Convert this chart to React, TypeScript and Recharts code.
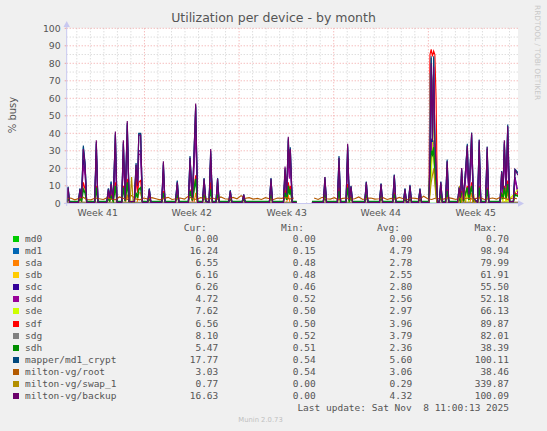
import { CartesianGrid, Line, LineChart, ReferenceLine, XAxis, YAxis } from 'recharts';

const PAGE_BG = '#f0f0f0';
const TEXT = '#555555';
const AXIS = '#c8c8f0';

// x is measured in days from the left edge of the plot
const X_MAX = 33.38;
const weekTicks = [2.3, 9.25, 16.28, 23.23, 30.26];
const weekLabels = ['Week 41', 'Week 42', 'Week 43', 'Week 44', 'Week 45'];
const weekStarts = [5.75, 12.75, 19.75, 26.75];
const yTicks = [0, 10, 20, 30, 40, 50, 60, 70, 80, 90, 100];
const yMinor = [5, 15, 25, 35, 45, 55, 65, 75, 85, 95];

// sample instants shared by the spiky devices (null rows mark the hole in week 43)
const spikeDays = [
  0.0, 0.1, 0.22, 0.86, 0.98, 1.1, 1.23, 1.36, 1.48, 2.07,
  2.19, 2.31, 2.96, 3.08, 3.18, 3.28, 3.44, 3.6, 3.72, 4.07,
  4.19, 4.33, 4.48, 4.62, 5.0, 5.13, 5.24, 5.33, 5.47, 5.6,
  5.99, 6.11, 6.23, 7.03, 7.15, 7.27, 8.04, 8.18, 8.3, 9.0,
  9.12, 9.3, 9.54, 9.68, 10.04, 10.16, 10.3, 10.53, 10.65, 10.78,
  11.04, 11.16, 11.28, 11.98, 12.1, 12.22, 12.97, 13.09, 13.21, 14.99,
  15.11, 15.23, 16.03, 16.15, 16.27, 16.39, 16.47, 16.54, 16.68, 17.01,
  17.05, 18.14, 18.98, 19.1, 19.22, 20.02, 20.14, 20.26, 20.66, 20.78,
  20.9, 21.03, 21.15, 22.04, 22.16, 22.28, 23.13, 23.25, 23.37, 24.11,
  24.23, 24.35, 24.9, 25.02, 25.14, 25.27, 25.39, 25.51, 26.01, 26.13,
  26.25, 26.8, 26.87, 26.96, 27.05, 27.14, 27.23, 27.32, 27.42, 27.55,
  27.67, 27.79, 28.02, 28.14, 28.26, 28.91, 29.03, 29.12, 29.21, 29.35,
  29.63, 29.75, 29.95, 30.08, 30.39, 30.51, 30.63, 30.98, 31.1, 31.22,
  32.05, 32.17, 32.27, 32.37, 32.5, 32.62, 32.76, 33.04, 33.16, 33.38,
];

const backupVals = [
  0.4, 9, 0.4, 0.4, 8, 3, 31, 22, 0.4, 0.4,
  36, 0.4, 0.4, 8, 3, 11, 2, 41, 0.4, 0.4,
  36, 2, 47, 1, 1, 22, 10, 39, 39, 0.4,
  0.4, 8, 0.4, 0.4, 24, 0.4, 0.4, 12, 0.4, 0.4,
  26, 3, 57, 0.4, 0.4, 14, 1, 0.4, 31, 0.4,
  0.4, 14, 0.4, 0.4, 7, 0.4, 0.4, 5, 0.4, 0.4,
  14, 0.4, 0.4, 21, 5, 38, 20, 31, 0.4, 0.4,
  null, 0.4, 0.4, 15, 0.4, 0.4, 26, 0.4, 0.4, 34,
  2, 9.5, 0.4, 0.4, 12, 0.4, 0.4, 11, 0.4, 0.4,
  16, 0.4, 0.4, 8, 0.4, 0.4, 10, 0.4, 0.4, 8,
  0.4, 0.4, 30, 80, 36, 78, 37, 20, 0.4, 0.4,
  12, 0.4, 0.4, 24, 0.4, 0.4, 9, 3, 20, 2,
  33, 5, 40, 3, 0.4, 36, 0.4, 0.4, 32, 0.4,
  0.4, 18, 8, 36, 10, 44, 1, 1, 19, 16,
];

const cryptVals = [
  0.6, 9.5, 0.6, 0.6, 8.5, 3, 33, 23, 0.6, 0.6,
  35, 0.6, 0.6, 8.5, 3, 12.5, 2, 40, 0.6, 0.6,
  35, 2, 46, 1, 1, 23, 10, 40, 40, 0.6,
  0.6, 8.5, 0.6, 0.6, 23, 0.6, 0.6, 13, 0.6, 0.6,
  27, 3, 56, 0.6, 0.6, 14.5, 1, 0.6, 30, 0.6,
  0.6, 14.5, 0.6, 0.6, 7.5, 0.6, 0.6, 5, 0.6, 0.6,
  14.5, 0.6, 0.6, 20, 5, 37, 20, 32, 0.6, 0.6,
  null, 0.6, 0.6, 15, 0.6, 0.6, 27, 0.6, 0.6, 33,
  2, 10, 0.6, 0.6, 12.5, 0.6, 0.6, 11.5, 0.6, 0.6,
  16.5, 0.6, 0.6, 8.5, 0.6, 0.6, 10.5, 0.6, 0.6, 8.5,
  0.6, 0.6, 28, 84, 35, 84, 36, 20, 0.6, 0.6,
  12.5, 0.6, 0.6, 25, 0.6, 0.6, 9.5, 3, 20, 2,
  34, 5, 40.5, 3, 0.6, 36.5, 0.6, 0.6, 32.5, 0.6,
  0.6, 18.5, 8, 35, 10, 45, 1, 1, 19.5, 17.5,
];

const md1Vals = [
  0.5, 9, 0.5, 0.5, 8, 3, 32, 22, 0.5, 0.5,
  34, 0.5, 0.5, 8, 3, 12, 2, 39, 0.5, 0.5,
  34, 2, 45, 1, 1, 22, 10, 39.5, 39.5, 0.5,
  0.5, 8, 0.5, 0.5, 22, 0.5, 0.5, 12.5, 0.5, 0.5,
  26, 3, 55, 0.5, 0.5, 14, 1, 0.5, 29, 0.5,
  0.5, 14, 0.5, 0.5, 7, 0.5, 0.5, 5, 0.5, 0.5,
  14, 0.5, 0.5, 19, 5, 36, 19, 31, 0.5, 0.5,
  null, 0.5, 0.5, 14, 0.5, 0.5, 26, 0.5, 0.5, 32,
  2, 9.5, 0.5, 0.5, 12, 0.5, 0.5, 11, 0.5, 0.5,
  16, 0.5, 0.5, 8, 0.5, 0.5, 10, 0.5, 0.5, 8,
  0.5, 0.5, 27, 83, 34, 83, 35, 19, 0.5, 0.5,
  12, 0.5, 0.5, 24, 0.5, 0.5, 9, 3, 19, 2,
  33, 5, 39, 3, 0.5, 35, 0.5, 0.5, 31, 0.5,
  0.5, 18, 8, 34, 10, 44, 1, 1, 19, 17,
];

const sdcVals = [
  0.5, 6, 0.5, 0.5, 5, 2, 25, 18, 0.5, 0.5,
  30, 0.5, 0.5, 5, 2, 8, 1.5, 30, 0.5, 0.5,
  28, 1.5, 38, 1, 1, 18, 8, 30, 30, 0.5,
  0.5, 5, 0.5, 0.5, 18, 0.5, 0.5, 9, 0.5, 0.5,
  20, 2, 45, 0.5, 0.5, 10, 1, 0.5, 25, 0.5,
  0.5, 10, 0.5, 0.5, 5, 0.5, 0.5, 3.5, 0.5, 0.5,
  10, 0.5, 0.5, 16, 4, 30, 15, 25, 0.5, 0.5,
  null, 0.5, 0.5, 11, 0.5, 0.5, 20, 0.5, 0.5, 26,
  1.5, 7, 0.5, 0.5, 9, 0.5, 0.5, 8, 0.5, 0.5,
  12, 0.5, 0.5, 6, 0.5, 0.5, 7, 0.5, 0.5, 6,
  0.5, 0.5, 20, 37, 30, 36, 25, 12, 0.5, 0.5,
  9, 0.5, 0.5, 18, 0.5, 0.5, 7, 2, 15, 1.5,
  26, 4, 31, 2, 0.5, 28, 0.5, 0.5, 25, 0.5,
  0.5, 14, 6, 28, 8, 34, 1, 1, 15, 6,
];

const sddVals = [
  0.5, 5, 0.5, 0.5, 5, 2, 22, 16, 0.5, 0.5,
  28, 0.5, 0.5, 5, 2, 7, 1.5, 28, 0.5, 0.5,
  27, 1.5, 36, 1, 1, 17, 7, 28, 28, 0.5,
  0.5, 5, 0.5, 0.5, 17, 0.5, 0.5, 8, 0.5, 0.5,
  19, 2, 40, 0.5, 0.5, 9, 1, 0.5, 24, 0.5,
  0.5, 9, 0.5, 0.5, 4, 0.5, 0.5, 3, 0.5, 0.5,
  9, 0.5, 0.5, 15, 4, 28, 14, 23, 0.5, 0.5,
  null, 0.5, 0.5, 10, 0.5, 0.5, 19, 0.5, 0.5, 25,
  1.5, 6, 0.5, 0.5, 8, 0.5, 0.5, 7, 0.5, 0.5,
  11, 0.5, 0.5, 5, 0.5, 0.5, 6, 0.5, 0.5, 5,
  0.5, 0.5, 18, 35, 28, 34, 22, 10, 0.5, 0.5,
  8, 0.5, 0.5, 17, 0.5, 0.5, 6, 2, 14, 1.5,
  25, 4, 30, 2, 0.5, 27, 0.5, 0.5, 24, 0.5,
  0.5, 13, 5, 27, 7, 33, 1, 1, 14, 5,
];

const sdhVals = [
  1, 3, 1, 1, 2.5, 1.5, 8, 6, 1, 1,
  9, 1, 1, 2.5, 1.5, 4, 1.2, 10, 1, 1,
  9, 1.2, 12, 1, 1, 6, 3, 8, 9, 1,
  1, 2.5, 1, 1, 6, 1, 1, 4, 1, 1,
  7, 1.5, 14, 1, 1, 4, 1, 1, 8, 1,
  1, 4, 1, 1, 2.5, 1, 1, 2, 1, 1,
  4, 1, 1, 6, 2, 10, 5, 8, 1, 1,
  null, 1, 1, 4, 1, 1, 7, 1, 1, 9,
  1.2, 3, 1, 1, 4, 1, 1, 3.5, 1, 1,
  5, 1, 1, 2.5, 1, 1, 3, 1, 1, 2.5,
  1, 1, 20, 30, 28, 32, 18, 6, 1, 1,
  4, 1, 1, 7, 1, 1, 3, 1.2, 6, 1.2,
  9, 2, 10, 1.5, 1, 9, 1, 1, 8, 1,
  1, 5, 2.5, 9, 3, 11, 1, 1, 5, 4,
];

const sdfVals = [
  0.5, 3, 0.5, 0.5, 3, 1, 12, 8, 0.5, 0.5,
  10, 0.5, 0.5, 3, 1, 5, 1, 12, 0.5, 0.5,
  10, 1, 14, 0.8, 0.8, 14, 6, 12, 13, 0.5,
  0.5, 3, 0.5, 0.5, 7, 0.5, 0.5, 5, 0.5, 0.5,
  8, 1, 16, 0.5, 0.5, 5, 0.8, 0.5, 12, 0.5,
  0.5, 5, 0.5, 0.5, 3, 0.5, 0.5, 2, 0.5, 0.5,
  5, 0.5, 0.5, 8, 2, 12, 7, 10, 0.5, 0.5,
  null, 0.5, 0.5, 5, 0.5, 0.5, 9, 0.5, 0.5, 11,
  1, 4, 0.5, 0.5, 4.5, 0.5, 0.5, 4, 0.5, 0.5,
  6, 0.5, 0.5, 3, 0.5, 0.5, 4, 0.5, 0.5, 3,
  0.5, 0.5, 85, 88, 84, 87, 85, 60, 0.5, 0.5,
  4, 0.5, 0.5, 8, 0.5, 0.5, 3, 1, 7, 1,
  10, 2, 12, 1, 0.5, 10, 0.5, 0.5, 9, 0.5,
  0.5, 6, 3, 10, 4, 13, 1, 1, 6, 5,
];

// quieter devices, [day, value]
const md0Pts = [[0, 0], [17.01, 0], [17.05, null], [18.14, 0], [33.38, 0]];
const sdaPts = [
  [0, 0.5], [4.36, 0.5], [4.48, 5], [4.6, 0.5], [5.21, 0.5], [5.33, 6], [5.47, 6], [5.6, 0.5],
  [9.42, 0.5], [9.54, 6], [9.66, 0.5], [16.27, 0.5], [16.39, 5], [16.51, 0.5], [17.01, 0.5],
  [17.05, null], [18.14, 0.5], [26.8, 0.5], [26.96, 30], [27.14, 28], [27.32, 10], [27.42, 0.5],
  [29.83, 0.5], [29.95, 6], [30.07, 0.5], [32.5, 0.5], [32.62, 7], [32.74, 0.5], [33.38, 0.5],
];
const sdbPts = [
  [0, 0.3], [17.01, 0.3], [17.05, null], [18.14, 0.3], [26.8, 0.3], [26.96, 20], [27.05, 35],
  [27.14, 30], [27.32, 8], [27.42, 0.3], [29.0, 0.3], [29.12, 8], [29.21, 5], [29.35, 0.3],
  [30.39, 0.3], [30.51, 7], [30.63, 0.3], [32.05, 0.3], [32.17, 6], [32.27, 0.3], [33.16, 5], [33.38, 4],
];
const sdePts = [
  [0, 0.3], [17.01, 0.3], [17.05, null], [18.14, 0.3], [26.8, 0.3], [26.96, 15], [27.14, 44],
  [27.23, 38], [27.32, 10], [27.42, 0.3], [29.51, 0.3], [29.63, 7], [29.75, 0.3], [32.25, 0.3],
  [32.37, 8], [32.5, 0.3], [33.16, 6], [33.38, 8],
];
const sdgPts = [
  [0, 0.5], [17.01, 0.5], [17.05, null], [18.14, 0.5], [26.8, 0.5], [26.87, 74], [26.96, 75],
  [27.05, 70], [27.14, 45], [27.23, 30], [27.32, 12], [27.42, 0.5], [33.38, 0.5],
];
const swapPts = [
  [0, 0], [4.68, 0], [4.8, 15], [4.92, 0], [17.01, 0], [17.05, null], [18.14, 0], [26.8, 0],
  [26.96, 12], [27.14, 20], [27.32, 3], [27.42, 0], [28.95, 0], [29.06, 10], [29.2, 0],
  [29.35, 8], [29.5, 0], [30.0, 0], [30.1, 5], [30.2, 0], [33.38, 0],
];

// milton-vg/root is sampled every 0.3 day
const ROOT_STEP = 0.3;
const rootVals = [
  2.5, 3, 2, 2.8, 3.5, 2.2, 2, 3, 2.6, 2.2,
  3.2, 2.4, 2, 3.6, 2.8, 2.2, 4.5, 2.5, 2, 3,
  2.4, 3.2, 2.6, 2, 2.8, 3.4, 2.2, 2.6, 3, 2.4,
  4, 2.6, 2.2, 3.2, 2.8, 2.4, 3, 2.2, 3.6, 2.6,
  2.4, 3.4, 2.6, 4.4, 2.8, 3.2, 2.4, 2.8, 2.2, 3.2,
  2.6, 2.2, 3, 2.8, 3.4, 2.4, 3,
  null, null, null, null,
  3, 2.2, 3.4, 2.6, 2.4, 3.2, 2, 2.8, 3,
  2.4, 2.6, 3.6, 2.2, 2.8, 3, 2.4, 2.6, 3.2, 2.2,
  2.8, 2.4, 3.4, 2.6, 2.2, 3, 2.8, 2.4, 4, 2.6,
  2.2, 3, 2.6, 2.4, 3.2, 2.8, 2.2, 3.4, 2.6, 3,
  2.4, 2.8, 3.2, 2.2, 2.6, 3, 2.4, 3.6, 2.8, 2.2, 3, 2.6,
];

// legend table
const names = [
  'md0', 'md1', 'sda', 'sdb', 'sdc', 'sdd', 'sde', 'sdf', 'sdg', 'sdh',
  'mapper/md1_crypt', 'milton-vg/root', 'milton-vg/swap_1', 'milton-vg/backup',
];
const colors = [
  '#00CC00', '#0066B3', '#FF8000', '#FFCC00', '#330099', '#990099', '#CCFF00', '#FF0000',
  '#808080', '#008F00', '#00487D', '#B35A00', '#B38F00', '#6B006B',
];
const curVals = [0.0, 16.24, 6.55, 6.16, 6.26, 4.72, 7.62, 6.56, 8.1, 5.47, 17.77, 3.03, 0.77, 16.63];
const minVals = [0.0, 0.15, 0.48, 0.48, 0.46, 0.52, 0.5, 0.5, 0.52, 0.51, 0.54, 0.54, 0.0, 0.0];
const avgVals = [0.0, 4.79, 2.78, 2.55, 2.8, 2.56, 2.97, 3.96, 3.79, 2.36, 5.6, 3.06, 0.29, 4.32];
const maxVals = [0.7, 98.94, 79.99, 61.91, 55.5, 52.18, 66.13, 89.87, 82.01, 38.39, 100.11, 38.46, 339.87, 100.09];

type Pt = { d: number; v: number | null };
const fromSpikes = (vals: (number | null)[]): Pt[] => spikeDays.map((d, i) => ({ d, v: vals[i] }));
const fromPairs = (pairs: (number | null)[][]): Pt[] => pairs.map(([d, v]) => ({ d: d as number, v }));

// drawing order follows the legend, backup ends up on top
const seriesData: Pt[][] = [
  fromPairs(md0Pts),
  fromSpikes(md1Vals),
  fromPairs(sdaPts),
  fromPairs(sdbPts),
  fromSpikes(sdcVals),
  fromSpikes(sddVals),
  fromPairs(sdePts),
  fromSpikes(sdfVals),
  fromPairs(sdgPts),
  fromSpikes(sdhVals),
  fromSpikes(cryptVals),
  rootVals.map((v, i) => ({ d: i * ROOT_STEP, v })),
  fromPairs(swapPts),
  fromSpikes(backupVals),
];

const dayLines = Array.from({ length: 33 }, (_, k) => 0.75 + k).filter(
  (d) => !weekStarts.includes(d)
);

const mono = "'DejaVu Sans Mono', monospace";
const sans = "'DejaVu Sans', sans-serif";
const ROW0 = 239.3;
const ROW_H = 12.03;

function Cell({ y, right, text }: { y: number; right: number; text: string }) {
  return (
    <div
      style={{
        position: 'absolute',
        top: y - 6,
        right: 547 - right,
        lineHeight: '12px',
        whiteSpace: 'pre',
      }}
    >
      {text}
    </div>
  );
}

export default function App() {
  return (
    <div
      style={{
        position: 'absolute',
        left: 0,
        top: 0,
        width: 547,
        height: 431,
        background: PAGE_BG,
        overflow: 'hidden',
        color: TEXT,
      }}
    >
      <div
        style={{
          position: 'absolute',
          top: 10,
          left: 0,
          width: 547,
          textAlign: 'center',
          fontFamily: sans,
          fontSize: 12.5,
          lineHeight: '16px',
        }}
      >
        Utilization per device - by month
      </div>

      <div style={{ position: 'absolute', left: 0, top: 0 }}>
        <LineChart
          width={547}
          height={235}
          margin={{ top: 28.3, right: 29, bottom: 0, left: 26.7 }}
        >
          <CartesianGrid horizontal={false} vertical={false} fill="#ffffff" fillOpacity={1} />
          {dayLines.map((d) => (
            <ReferenceLine key={`d${d}`} x={d} stroke="#cfcfcf" strokeDasharray="1 2" zIndex={-50} />
          ))}
          {yMinor.map((v) => (
            <ReferenceLine key={`m${v}`} y={v} stroke="#cfcfcf" strokeDasharray="1 2" zIndex={-50} />
          ))}
          {weekStarts.map((d) => (
            <ReferenceLine key={`w${d}`} x={d} stroke="#f0a0a0" strokeDasharray="1 2" zIndex={-40} />
          ))}
          {yTicks.slice(1).map((v) => (
            <ReferenceLine key={`t${v}`} y={v} stroke="#f0a0a0" strokeDasharray="1 2" zIndex={-40} />
          ))}
          <XAxis
            type="number"
            dataKey="d"
            domain={[0, X_MAX]}
            allowDataOverflow
            ticks={weekTicks}
            tickFormatter={(_v: number, i: number) => weekLabels[i]}
            interval={0}
            axisLine={false}
            tickLine={false}
            tickSize={0}
            tickMargin={6}
            height={31.7}
            tick={{ fill: TEXT, fontSize: 9.33, fontFamily: sans }}
          />
          <YAxis
            type="number"
            domain={[0, 100]}
            allowDataOverflow
            ticks={yTicks}
            interval={0}
            width={40}
            axisLine={false}
            tickLine={{ stroke: '#f0a0a0' }}
            tickSize={2}
            tickMargin={4}
            tick={{ fill: TEXT, fontSize: 9.33, fontFamily: sans }}
          />
          {seriesData.map((pts, i) => (
            <Line
              key={names[i]}
              data={pts}
              dataKey="v"
              type="linear"
              stroke={colors[i]}
              strokeWidth={i === 9 ? 1.6 : 1.15}
              dot={false}
              activeDot={false}
              isAnimationActive={false}
            />
          ))}
        </LineChart>
      </div>

      <svg
        width={547}
        height={431}
        style={{ position: 'absolute', left: 0, top: 0, pointerEvents: 'none' }}
      >
        <line x1={66.7} y1={206} x2={66.7} y2={24} stroke={AXIS} strokeWidth={1} />
        <polygon points="63.5,27 69.9,27 66.7,21" fill={AXIS} />
        <line x1={64} y1={203.5} x2={519} y2={203.5} stroke={AXIS} strokeWidth={1} />
        <polygon points="518,200.3 518,206.7 524,203.5" fill={AXIS} />
      </svg>

      <div
        style={{
          position: 'absolute',
          left: 5,
          top: 115,
          transform: 'translate(-50%, -50%) rotate(-90deg)',
          transformOrigin: 'center',
          marginLeft: 7,
          fontFamily: sans,
          fontSize: 10,
          whiteSpace: 'nowrap',
        }}
      >
        % busy
      </div>

      <div
        style={{
          position: 'absolute',
          left: 533,
          top: 5,
          writingMode: 'vertical-rl',
          fontFamily: sans,
          fontSize: 7.4,
          color: '#c8c8c8',
          whiteSpace: 'nowrap',
        }}
      >
        RRDTOOL / TOBI OETIKER
      </div>

      <div style={{ position: 'absolute', left: 0, top: 0, width: 547, height: 431, fontFamily: mono, fontSize: 9.5 }}>
        <Cell y={228.3} right={206.7} text="Cur:" />
        <Cell y={228.3} right={304} text="Min:" />
        <Cell y={228.3} right={400} text="Avg:" />
        <Cell y={228.3} right={497.3} text="Max:" />
        {names.map((n, i) => {
          const y = ROW0 + ROW_H * i;
          return (
            <div key={n}>
              <div
                style={{
                  position: 'absolute',
                  left: 13.3,
                  top: y - 3,
                  width: 6,
                  height: 6,
                  background: colors[i],
                }}
              />
              <div style={{ position: 'absolute', left: 25, top: y - 6, lineHeight: '12px', whiteSpace: 'pre' }}>
                {n}
              </div>
              <Cell y={y} right={218.3} text={curVals[i].toFixed(2)} />
              <Cell y={y} right={315.7} text={minVals[i].toFixed(2)} />
              <Cell y={y} right={412.3} text={avgVals[i].toFixed(2)} />
              <Cell y={y} right={509} text={maxVals[i].toFixed(2)} />
            </div>
          );
        })}
        <Cell y={407.7} right={509} text="Last update: Sat Nov  8 11:00:13 2025" />
      </div>

      <div
        style={{
          position: 'absolute',
          top: 415,
          left: 0,
          width: 521,
          textAlign: 'center',
          fontFamily: sans,
          fontSize: 6.8,
          color: '#c0c0c0',
          lineHeight: '10px',
        }}
      >
        Munin 2.0.73
      </div>
    </div>
  );
}
